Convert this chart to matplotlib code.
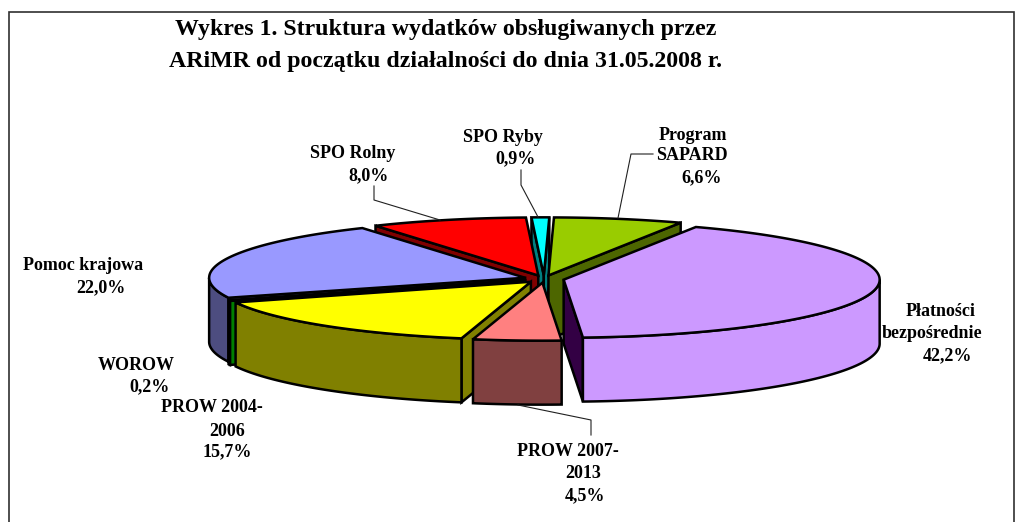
import numpy as np
import matplotlib
matplotlib.use("Agg")
import matplotlib.pyplot as plt
from matplotlib.patches import Polygon, Rectangle

plt.rcParams['font.family'] = ['Liberation Serif', 'DejaVu Serif']

# ---- data -------------------------------------------------------------
names = ["Program SAPARD", "Płatności bezpośrednie", "PROW 2007-2013", "PROW 2004-2006",
         "WOROW", "Pomoc krajowa", "SPO Rolny", "SPO Ryby"]
values = [6.6, 42.2, 4.5, 15.7, 0.2, 22.0, 8.0, 0.9]
title_lines = ["Wykres 1. Struktura wydatków obsługiwanych przez",
               "ARiMR od początku działalności do dnia 31.05.2008 r."]
top_colors = ["#99CC00", "#CC99FF", "#FF8080", "#FFFF00", "#00A000", "#9999FF", "#FF0000", "#00FFFF"]
wall_colors = ["#4D6600", "#CC99FF", "#804040", "#808000", "#008000", "#4D4D80", "#800000", "#008080"]
edge_colors = ["#4D6600", "#330044", "#804040", "#808000", "#008000", "#4D4D80", "#800000", "#008080"]
# text lines of each label (the percentage line is built from the values)
label_lines = [["Program", "SAPARD"], ["Płatności", "bezpośrednie"], ["PROW 2007-", "2013"],
               ["PROW 2004-", "2006"], ["WOROW"], ["Pomoc krajowa"], ["SPO Rolny"], ["SPO Ryby"]]
# left x / centre y of each text line
label_pos = [[(659, 135), (656, 156), (681, 178)],
             [(906, 312), (882, 334), (923, 356)],
             [(517, 451), (565, 473), (565, 496)],
             [(161, 408), (209, 431), (203, 452)],
             [(98, 365), (129, 387)],
             [(23, 266), (76, 288)],
             [(310, 154), (348, 176)],
             [(463, 138), (495, 159)]]
leaders = [[(653, 154), (631, 154), (618, 218)],
           [],
           [(518, 405), (591, 420), (591, 435)],
           [],
           [],
           [],
           [(374, 186), (374, 200), (440, 220)],
           [(521, 170), (521, 185), (538, 217)]]

# ---- projection -------------------------------------------------------
CX, CY = 544, 279       # centre of the pie
RX, RY = 316, 58        # ellipse radii of the top face
EXPLODE = 20            # explosion along the radius (in RX units)
DEPTH = 64              # wall height
START = 1.0             # start angle, clockwise from 12 o'clock
LW = 1.8

fig = plt.figure(figsize=(10.24, 5.22), dpi=100)
ax = fig.add_axes([0, 0, 1, 1])
ax.set_xlim(0, 1024)
ax.set_ylim(522, 0)
ax.axis('off')

ax.add_patch(Rectangle((8.5, 11.5), 1005, 520, fc='white', ec='#303030', lw=1.2, clip_on=True))

vals = np.array(values)
edges = START + np.concatenate([[0], np.cumsum(vals)]) / vals.sum() * 360


def proj(cx, cy, deg):
    t = np.radians(deg)
    return cx + RX * np.sin(t), cy - RY * np.cos(t)


def face(verts, fc, z):
    ax.add_patch(Polygon(verts, closed=True, fc=fc, ec='black', lw=LW, joinstyle='miter', zorder=z))


mids = (edges[:-1] + edges[1:]) / 2
order = np.argsort(-np.cos(np.radians(mids)))
for z, i in enumerate(order):
    a0, a1 = edges[i], edges[i + 1]
    m = np.radians(mids[i])
    cx = CX + EXPLODE * np.sin(m)
    cy = CY - EXPLODE * RY / RX * np.cos(m)
    tip = (cx, cy)
    base = 10 + z * 4
    # radial walls that face the viewer
    if np.sin(np.radians(a0)) < 0:
        x, y = proj(cx, cy, a0)
        face([tip, (x, y), (x, y + DEPTH), (cx, cy + DEPTH)], edge_colors[i], base)
    if np.sin(np.radians(a1)) > 0:
        x, y = proj(cx, cy, a1)
        face([tip, (x, y), (x, y + DEPTH), (cx, cy + DEPTH)], edge_colors[i], base)
    # outer wall, front half of the ellipse only
    lo, hi = max(a0, 90), min(a1, 270)
    if hi > lo:
        ts = np.linspace(lo, hi, 80)
        xs, ys = proj(cx, cy, ts)
        verts = list(zip(xs, ys)) + list(zip(xs[::-1], ys[::-1] + DEPTH))
        face(verts, wall_colors[i], base + 1)
    # top face
    ts = np.linspace(a0, a1, 120)
    xs, ys = proj(cx, cy, ts)
    face([tip] + list(zip(xs, ys)), top_colors[i], base + 2)

# ---- leader lines and labels -------------------------------------------
for pts in leaders:
    if pts:
        xs, ys = zip(*pts)
        ax.plot(xs, ys, color='#202020', lw=0.8, zorder=60)

for lines, v, pos in zip(label_lines, values, label_pos):
    pct = f"{v:.1f}%".replace('.', ',')
    for txt, (x, y) in zip(lines + [pct], pos):
        ax.text(x, y, txt, fontsize=13, fontweight='bold', ha='left', va='center', zorder=70)

ax.text(175, 29, title_lines[0], fontsize=17.2, fontweight='bold', ha='left', va='center')
ax.text(169, 61, title_lines[1], fontsize=17.2, fontweight='bold', ha='left', va='center')

fig.savefig("out.png", dpi=100)
